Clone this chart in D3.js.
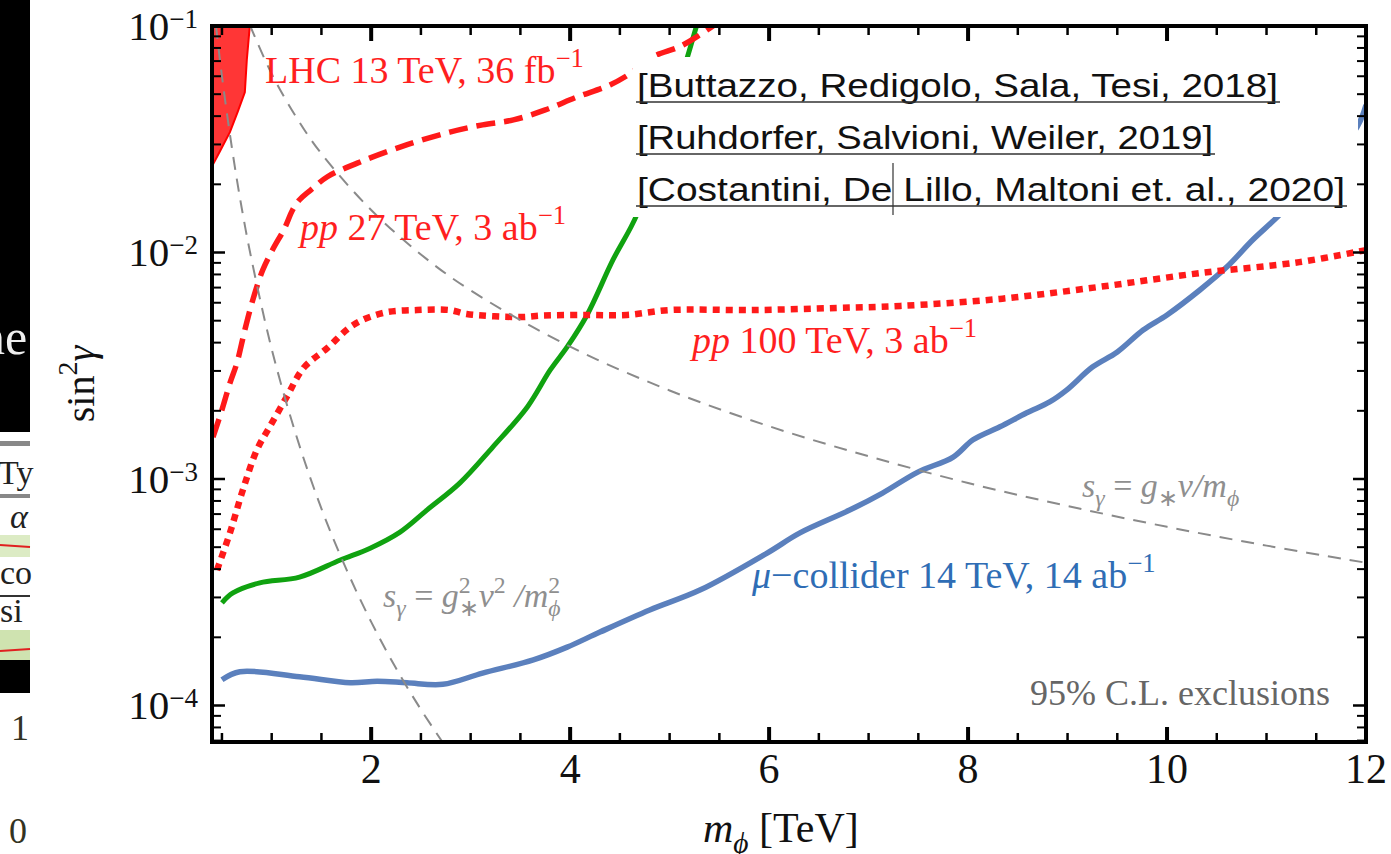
<!DOCTYPE html>
<html>
<head>
<meta charset="utf-8">
<script src="https://cdn.jsdelivr.net/npm/d3@7"></script>
<style>
  body { margin: 0; background: #fff; }
  svg { display: block; font-family: "Liberation Serif", "Times New Roman", serif; }
</style>
</head>
<body>
<div id="chart"></div>
<script>
// tick values
var xTicks = [2, 4, 6, 8, 10, 12];
var xMinorTicks = [0.5, 1, 1.5, 2.5, 3, 3.5, 4.5, 5, 5.5, 6.5, 7, 7.5, 8.5, 9, 9.5, 10.5, 11, 11.5];
var yTickExps = [-1, -2, -3, -4];

// LHC 13 TeV excluded region (right boundary, top to bottom)
var lhcMass = [0.78, 0.75, 0.73, 0.66, 0.58, 0.48, 0.41, 0.40];
var lhcSin2 = [0.1, 0.071, 0.051, 0.042, 0.034, 0.028, 0.0245, 0.0243];

// pp 27 TeV, 3 ab-1 (dashed)
var pp27Mass = [0.41, 0.50, 0.58, 0.65, 0.73, 0.81, 0.91, 1.01, 1.13, 1.21, 1.28, 1.40, 1.56, 1.86, 2.29, 2.79, 3.12, 3.43, 3.75, 4.07, 4.40, 4.63, 4.83, 5.10, 5.30, 5.45];
var pp27Sin2 = [0.00153, 0.00202, 0.00265, 0.00325, 0.00455, 0.00617, 0.00837, 0.0103, 0.0128, 0.0154, 0.0171, 0.0190, 0.0216, 0.0248, 0.0292, 0.0340, 0.0366, 0.0385, 0.0426, 0.0486, 0.0549, 0.0627, 0.0730, 0.0810, 0.0912, 0.101];

// pp 100 TeV, 3 ab-1 (dotted)
var pp100Mass = [0.45, 0.58, 0.71, 0.85, 0.98, 1.15, 1.32, 1.56, 1.82, 2.12, 2.46, 2.79, 2.96, 3.50, 3.73, 4.17, 4.57, 5.00, 5.84, 6.68, 7.32, 8.32, 9.32, 10.33, 11.33, 12.0];
var pp100Sin2 = [0.000396, 0.000578, 0.000894, 0.00134, 0.0017, 0.0023, 0.00309, 0.00379, 0.00479, 0.00541, 0.00557, 0.00557, 0.00535, 0.00519, 0.00527, 0.0053, 0.0053, 0.00557, 0.00557, 0.00569, 0.00581, 0.00624, 0.00705, 0.00811, 0.00907, 0.01025];

// green curve
var greenMass = [0.50, 0.61, 0.88, 1.28, 1.69, 1.99, 2.29, 2.56, 2.89, 3.22, 3.57, 3.80, 3.97, 4.17, 4.43, 4.67, 4.92, 5.17, 5.27];
var greenSin2 = [0.000284, 0.000314, 0.000348, 0.000369, 0.000439, 0.000495, 0.000583, 0.000729, 0.000959, 0.00138, 0.00208, 0.00303, 0.00383, 0.0053, 0.00927, 0.01466, 0.0314, 0.0708, 0.1];

// mu-collider 14 TeV, 14 ab-1
var muMass = [0.50, 0.68, 1.28, 1.79, 2.06, 2.36, 2.72, 3.12, 3.63, 3.97, 4.30, 4.80, 5.31, 5.98, 6.31, 6.81, 7.14, 7.49, 7.85, 8.05, 8.32, 8.59, 8.82, 8.99, 9.25, 9.50, 9.76, 10.0, 10.33, 10.60, 10.86, 11.13, 11.54, 11.91, 12.0];
var muSin2 = [0.000130, 0.000141, 0.000134, 0.000126, 0.000128, 0.000126, 0.000124, 0.000139, 0.000159, 0.000181, 0.000211, 0.000264, 0.000324, 0.000471, 0.000578, 0.000729, 0.000867, 0.00107, 0.00125, 0.00149, 0.0017, 0.00196, 0.00219, 0.00247, 0.00312, 0.00364, 0.00455, 0.0053, 0.00683, 0.00862, 0.01135, 0.01465, 0.0231, 0.0358, 0.0448];

// gray reference lines
var gvMass = [0.78, 1, 1.25, 1.5, 2, 2.5, 3, 4, 5, 6, 7, 8, 9, 10, 11, 12];
var gvSin2 = [0.101, 0.0615, 0.0394, 0.0273, 0.0154, 0.0098, 0.0068, 0.00384, 0.00246, 0.00171, 0.00126, 0.00096, 0.00076, 0.000615, 0.000508, 0.000427];
var g2v2Mass = [0.44, 0.5, 0.6, 0.7, 0.8, 1.0, 1.25, 1.5, 1.75, 2.0, 2.25, 2.5, 2.75];
var g2v2Sin2 = [0.1, 0.06, 0.029, 0.0156, 0.0092, 0.00375, 0.00154, 0.00074, 0.0004, 0.000234, 0.000146, 0.000096, 0.0000656];

var citations = [
  "[Buttazzo, Redigolo, Sala, Tesi, 2018]",
  "[Ruhdorfer, Salvioni, Weiler, 2019]",
  "[Costantini, De Lillo, Maltoni et. al., 2020]"
];

function zip(a, b) { return a.map(function (d, i) { return [d, b[i]]; }); }

var W = 1391, H = 854;
var plotL = 212, plotT = 26, plotR = 1366, plotB = 742;

var svg = d3.select("#chart").append("svg")
  .attr("width", W)
  .attr("height", H);

var x = d3.scaleLinear().domain([0.4, 12]).range([plotL, plotR]);
var y = d3.scaleLog().domain([6.9e-5, 0.1]).range([plotB, plotT]);

svg.append("clipPath").attr("id", "plot-clip")
  .append("rect")
  .attr("x", plotL).attr("y", plotT)
  .attr("width", plotR - plotL).attr("height", plotB - plotT);

// text with italic / sub / sup pieces
function richText(sel, px, py, parts, size, color, opts) {
  opts = opts || {};
  var supShift = opts.supShift || size * 0.42;
  var subShift = opts.subShift || size * 0.25;
  var small = opts.small || 0.7;
  var t = sel.append("text")
    .attr("x", px).attr("y", py)
    .attr("font-size", size)
    .attr("fill", color)
    .attr("text-anchor", opts.anchor || "start");
  var cur = 0;
  parts.forEach(function (p) {
    var shift = p.sup ? -supShift : (p.sub ? subShift : 0);
    var ts = t.append("tspan").attr("dy", shift - cur).text(p.t);
    cur = shift;
    if (p.sup || p.sub) ts.attr("font-size", size * small);
    if (p.i) ts.attr("font-style", "italic");
    if (p.dx) ts.attr("dx", p.dx);
  });
  return t;
}

var plot = svg.append("g").attr("clip-path", "url(#plot-clip)");

var line = d3.line()
  .x(function (d) { return x(d[0]); })
  .y(function (d) { return y(d[1]); })
  .curve(d3.curveCatmullRom.alpha(0.5));

// LHC filled region
plot.append("path")
  .datum(zip(lhcMass, lhcSin2))
  .attr("fill", "#ff3636")
  .attr("stroke", "#ff0000")
  .attr("stroke-width", 2)
  .attr("d", d3.area()
    .y(function (d) { return y(d[1]); })
    .x0(x(x.domain()[0]))
    .x1(function (d) { return x(d[0]); }));

plot.append("path")
  .datum(zip(greenMass, greenSin2))
  .attr("fill", "none")
  .attr("stroke", "#10a210")
  .attr("stroke-width", 5)
  .attr("d", line);

plot.append("path")
  .datum(zip(muMass, muSin2))
  .attr("fill", "none")
  .attr("stroke", "#5b80bd")
  .attr("stroke-width", 5.5)
  .attr("d", line);

plot.append("path")
  .datum(zip(pp100Mass, pp100Sin2))
  .attr("fill", "none")
  .attr("stroke", "#ff1a1a")
  .attr("stroke-width", 6.5)
  .attr("stroke-dasharray", "7,6")
  .attr("d", line);

plot.append("path")
  .datum(zip(pp27Mass, pp27Sin2))
  .attr("fill", "none")
  .attr("stroke", "#ff1a1a")
  .attr("stroke-width", 5.5)
  .attr("stroke-dasharray", "19,9")
  .attr("d", line);

// curve labels
richText(svg, 265, 83, [{t: "LHC 13 TeV, 36 fb"}, {t: "\u22121", sup: true}], 38, "#ff1f1f");
richText(svg, 300, 240, [{t: "pp", i: true}, {t: " 27 TeV, 3 ab"}, {t: "\u22121", sup: true}], 38, "#ff1f1f");
richText(svg, 692, 353, [{t: "pp", i: true}, {t: " 100 TeV, 3 ab"}, {t: "\u22121", sup: true}], 38, "#ff1f1f");
richText(svg, 752, 588, [{t: "\u03bc", i: true}, {t: "\u2212collider 14 TeV, 14 ab"}, {t: "\u22121", sup: true}], 38, "#2f6db5");
richText(svg, 1082, 497, [{t: "s", i: true}, {t: "\u03b3", i: true, sub: true}, {t: " = "}, {t: "g", i: true},
  {t: "\u2217", sub: true}, {t: "v/m", i: true}, {t: "\u03d5", i: true, sub: true}], 34, "#8f8f8f");
richText(svg, 383, 607, [{t: "s", i: true}, {t: "\u03b3", i: true, sub: true}, {t: " = "}, {t: "g", i: true},
  {t: "2", sup: true}, {t: "\u2217", sub: true, dx: -12}, {t: "v", i: true}, {t: "2", sup: true},
  {t: " /m", i: true}, {t: "2", sup: true}, {t: "\u03d5", i: true, sub: true, dx: -12}], 34, "#8f8f8f");
richText(svg, 1030, 705, [{t: "95% C.L. exclusions"}], 36, "#666");

// gray reference lines drawn over labels
plot.append("path")
  .datum(zip(gvMass, gvSin2))
  .attr("fill", "none")
  .attr("stroke", "#8a8a8a")
  .attr("stroke-width", 2)
  .attr("stroke-dasharray", "13,9")
  .attr("d", line);

plot.append("path")
  .datum(zip(g2v2Mass, g2v2Sin2))
  .attr("fill", "none")
  .attr("stroke", "#8a8a8a")
  .attr("stroke-width", 2)
  .attr("stroke-dasharray", "13,9")
  .attr("d", line);

// citation box
var cite = svg.append("g");
cite.append("rect")
  .attr("x", 633).attr("y", 57)
  .attr("width", 725).attr("height", 160)
  .attr("fill", "#fff");
var citeEnds = [1278, 1213, 1345];
citations.forEach(function (c, i) {
  var base = 97 + i * 52;
  cite.append("text")
    .attr("x", 637).attr("y", base)
    .style("font-family", "'Liberation Sans', Arial, sans-serif")
    .attr("font-size", 33)
    .attr("fill", "#111")
    .attr("textLength", citeEnds[i] - 637)
    .attr("lengthAdjust", "spacingAndGlyphs")
    .text(c);
  cite.append("line")
    .attr("x1", 636).attr("x2", citeEnds[i] + 2)
    .attr("y1", base + 5).attr("y2", base + 5)
    .attr("stroke", "#333").attr("stroke-width", 1.5);
});
cite.append("line")
  .attr("x1", 893).attr("x2", 893)
  .attr("y1", 163).attr("y2", 215)
  .attr("stroke", "#333").attr("stroke-width", 1.2);

// frame
svg.append("rect")
  .attr("x", plotL).attr("y", plotT)
  .attr("width", plotR - plotL).attr("height", plotB - plotT)
  .attr("fill", "none")
  .attr("stroke", "#000")
  .attr("stroke-width", 4);

var ticks = svg.append("g").attr("stroke", "#000");

function xTick(v, len, w) {
  ticks.append("line").attr("x1", x(v)).attr("x2", x(v))
    .attr("y1", plotB).attr("y2", plotB - len).attr("stroke-width", w);
  ticks.append("line").attr("x1", x(v)).attr("x2", x(v))
    .attr("y1", plotT).attr("y2", plotT + len).attr("stroke-width", w);
}
function yTick(v, len, w) {
  ticks.append("line").attr("y1", y(v)).attr("y2", y(v))
    .attr("x1", plotL).attr("x2", plotL + len).attr("stroke-width", w);
  ticks.append("line").attr("y1", y(v)).attr("y2", y(v))
    .attr("x1", plotR).attr("x2", plotR - len).attr("stroke-width", w);
}

xMinorTicks.forEach(function (v) { xTick(v, 9, 2.5); });
xTicks.forEach(function (v) { xTick(v, 15, 4); });

yTickExps.forEach(function (e) {
  yTick(Math.pow(10, e), 13, 2.5);
  d3.range(2, 10).forEach(function (k) {
    var v = k * Math.pow(10, e - 1);
    if (v > y.domain()[0] && v < y.domain()[1]) yTick(v, 9, 2);
  });
});

// tick labels
xTicks.forEach(function (v) {
  svg.append("text")
    .attr("x", x(v)).attr("y", 783)
    .attr("text-anchor", "middle")
    .attr("font-size", 42)
    .attr("fill", "#111")
    .text(v);
});

yTickExps.forEach(function (e) {
  richText(svg, 198, y(Math.pow(10, e)) + 14,
    [{t: "10"}, {t: "\u2212" + (-e), sup: true}], 41, "#111",
    {anchor: "end", supShift: 12, small: 0.66});
});

// axis titles
richText(svg, 703, 842, [{t: "m", i: true}, {t: "\u03d5", i: true, sub: true}, {t: "  [TeV]"}], 42, "#111");

var yt = svg.append("g").attr("transform", "translate(94,384) rotate(-90)");
richText(yt, 0, 0, [{t: "sin"}, {t: "2", sup: true}, {t: "\u03b3", i: true}], 40, "#111", {anchor: "middle"});

// leftover strip from the slide behind the figure
var strip = svg.append("g");
strip.append("rect").attr("x", 0).attr("y", 0).attr("width", 30).attr("height", 432).attr("fill", "#000");
strip.append("text").attr("x", -20).attr("y", 354).attr("font-size", 50).attr("fill", "#eee").text("ne");
strip.append("rect").attr("x", 0).attr("y", 441).attr("width", 30).attr("height", 5).attr("fill", "#888");
strip.append("text").attr("x", -2).attr("y", 484).attr("font-size", 34).attr("fill", "#222").text("Ty");
strip.append("rect").attr("x", 0).attr("y", 494).attr("width", 30).attr("height", 4).attr("fill", "#888");
strip.append("text").attr("x", -8).attr("y", 528).attr("font-size", 34).attr("font-style", "italic").attr("fill", "#222").text("\u0131 \u03b1");
strip.append("rect").attr("x", 0).attr("y", 535).attr("width", 30).attr("height", 22).attr("fill", "#dcebc4");
strip.append("line").attr("x1", 0).attr("x2", 30).attr("y1", 545).attr("y2", 547).attr("stroke", "#e02020").attr("stroke-width", 2);
strip.append("text").attr("x", 0).attr("y", 584).attr("font-size", 34).attr("fill", "#222").text("co");
strip.append("rect").attr("x", 0).attr("y", 595).attr("width", 30).attr("height", 2).attr("fill", "#333");
strip.append("text").attr("x", 0).attr("y", 622).attr("font-size", 34).attr("fill", "#222").text("si");
strip.append("rect").attr("x", 0).attr("y", 630).attr("width", 30).attr("height", 30).attr("fill", "#cfe3b0");
strip.append("line").attr("x1", 0).attr("x2", 30).attr("y1", 651).attr("y2", 649).attr("stroke", "#e02020").attr("stroke-width", 2);
strip.append("rect").attr("x", 0).attr("y", 660).attr("width", 30).attr("height", 33).attr("fill", "#000");
strip.append("text").attr("x", 20).attr("y", 740).attr("text-anchor", "middle").attr("font-size", 36).attr("fill", "#332").text("1");
strip.append("text").attr("x", 18).attr("y", 843).attr("text-anchor", "middle").attr("font-size", 36).attr("fill", "#332").text("0");
</script>
</body>
</html>
